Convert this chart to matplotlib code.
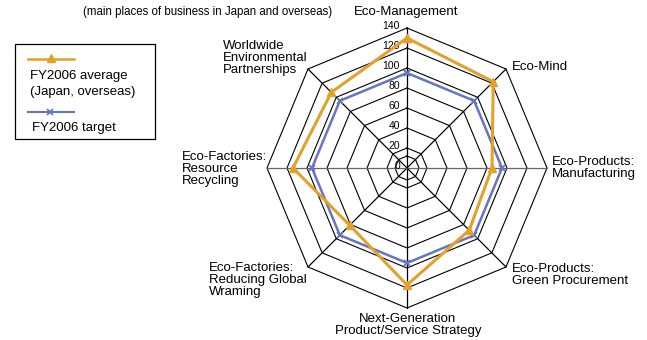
import numpy as np
import matplotlib.pyplot as plt
from matplotlib.patches import Rectangle
from matplotlib.lines import Line2D

plt.rcParams['font.family'] = ['Liberation Sans', 'DejaVu Sans']

categories = ['Eco-Management', 'Eco-Mind', 'Eco-Products:\nManufacturing',
              'Eco-Products:\nGreen Procurement',
              'Next-Generation\nProduct/Service Strategy',
              'Eco-Factories:\nReducing Global\nWraming',
              'Eco-Factories:\nResource\nRecycling',
              'Worldwide\nEnvironmental\nPartnerships']
fy2006_average = [130, 122, 85, 88, 117, 81, 114, 107]
fy2006_target = [95, 95, 95, 95, 95, 95, 95, 95]
ring_values = [0, 20, 40, 60, 80, 100, 120, 140]

orange = '#E2A12B'
blue = '#6675C2'

W, H = 647, 340
fig = plt.figure(figsize=(W / 100, H / 100), dpi=100)

# radar area: centre (407,168) px, outer ring radius 140 px
cx, cy, R = 407, 168, 140
ax = fig.add_axes([(cx - R) / W, (H - cy - R) / H, 2 * R / W, 2 * R / H],
                  projection='polar')
ax.set_theta_offset(np.pi / 2)
ax.set_theta_direction(-1)
ax.set_ylim(0, 140)
ax.set_axis_off()

n = len(categories)
angles = np.arange(n) * 2 * np.pi / n
closed = np.append(angles, angles[0])

# octagon grid
for v in ring_values[1:] + [12]:
    ax.plot(closed, [v] * (n + 1), color='black', lw=0.8, clip_on=False, zorder=1)
for i, a in enumerate(angles):
    col = '#666666' if i in (2, 6) else 'black'
    ax.plot([a, a], [0, 140], color=col, lw=0.9, clip_on=False, zorder=1)

for v in ring_values:
    ax.annotate(str(v), xy=(0, v), xytext=(-5, 1.5), textcoords='offset points',
                ha='right', va='center', fontsize=7.5, zorder=2)

ax.plot(closed, fy2006_target + fy2006_target[:1], color=blue, lw=1.8,
        marker='x', ms=5, mew=1.3, clip_on=False, zorder=3)
ax.plot(closed, fy2006_average + fy2006_average[:1], color=orange, lw=2.2,
        marker='^', ms=6, clip_on=False, zorder=4)

# overlay in pixel coordinates for labels and legend
lax = fig.add_axes([0, 0, 1, 1])
lax.set_xlim(0, W)
lax.set_ylim(H, 0)
lax.set_axis_off()
lax.patch.set_alpha(0)

fs = 9.5
label_pos = [
    (406, 12, 'center'),
    (512, 67, 'left'),
    (552, 168, 'left'),
    (512, 275, 'left'),
    (408, 325, 'center'),
    (209, 280, 'left'),
    (182, 169, 'left'),
    (223, 58, 'left'),
]
for text, (x, y, ha) in zip(categories, label_pos):
    lax.text(x, y, text, ha=ha, va='center', fontsize=fs, linespacing=1.05,
             multialignment='center' if ha == 'center' else 'left')

lax.text(208, 12, '(main places of business in Japan and overseas)',
         ha='center', va='center', fontsize=8.3)

# legend box
lax.add_patch(Rectangle((15, 44), 140, 95, fill=False, edgecolor='black', lw=0.9))
lax.add_line(Line2D([28, 74], [59, 59], color=orange, lw=1.8))
lax.plot([51], [58], marker='^', color=orange, ms=6)
lax.text(30, 84, 'FY2006 average\n(Japan, overseas)', ha='left', va='center',
         fontsize=fs, linespacing=1.35)
lax.add_line(Line2D([28, 74], [112, 112], color=blue, lw=1.5))
lax.plot([50], [112], marker='x', color=blue, ms=5, mew=1.3)
lax.text(32, 128, 'FY2006 target', ha='left', va='center', fontsize=fs)

fig.savefig('out.png', dpi=100)
